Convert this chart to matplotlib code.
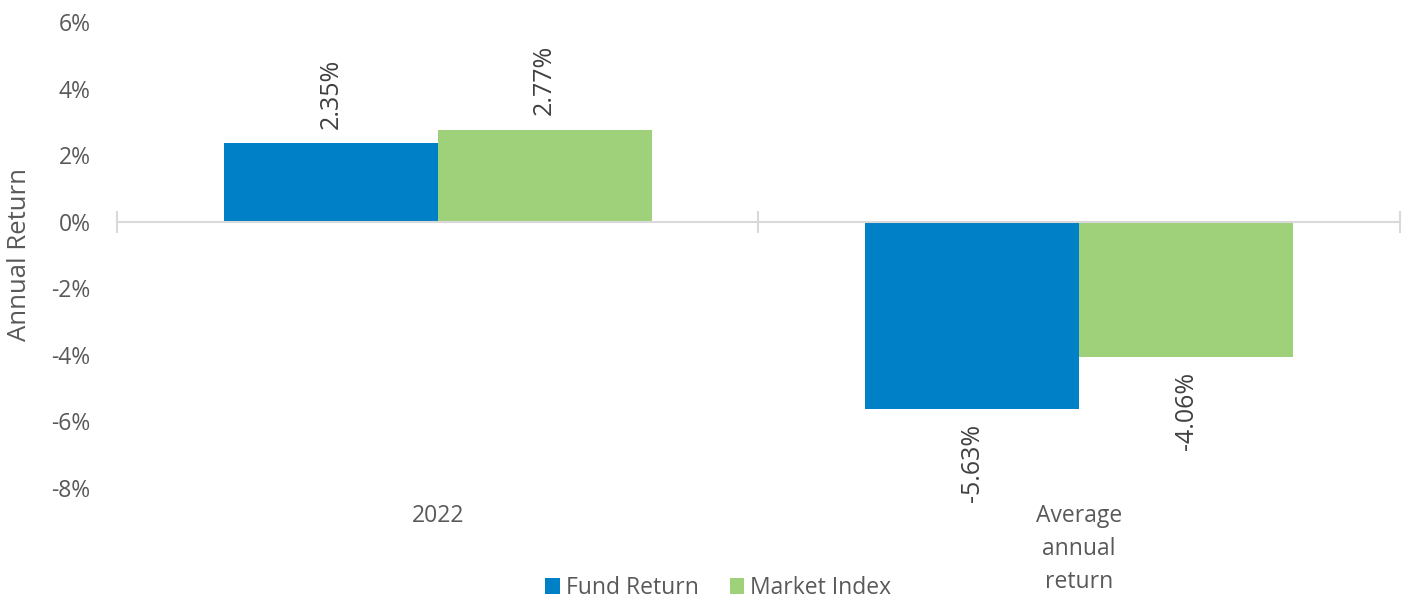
import matplotlib.pyplot as plt
import numpy as np

# --- Data ---
categories = ["2022", "Average\nannual\nreturn"]
series_names = ["Fund Return", "Market Index"]
fund_return = [2.35, -5.63]
market_index = [2.77, -4.06]
y_ticks = [-8, -6, -4, -2, 0, 2, 4, 6]

colors = ["#0080C6", "#9FD07A"]
text_color = "#595959"

plt.rcParams["font.family"] = ["Open Sans", "DejaVu Sans"]
fs = 16.5

fig = plt.figure(figsize=(14.11, 5.99), dpi=100)
ax = fig.add_axes([0.0829, 0.1853, 0.9093, 0.7780])

x = np.arange(len(categories))
w = 1 / 3
for i, (vals, name) in enumerate(zip([fund_return, market_index], series_names)):
    pos = x + (i - 0.5) * w
    bars = ax.bar(pos, vals, width=w, color=colors[i], label=name, zorder=2)
    for b, v in zip(bars, vals):
        off = 0.45 if v >= 0 else -0.45
        ax.text(b.get_x() + b.get_width() / 2, v + off, f"{v:.2f}%",
                rotation=90, ha="center", va="bottom" if v >= 0 else "top",
                fontsize=18, color="#404040")

ax.set_xlim(-0.5, len(categories) - 0.5)
ax.set_ylim(-8, 6)
ax.set_yticks(y_ticks)
ax.set_yticklabels([f"{t}%" for t in y_ticks])
ax.tick_params(axis="y", length=0, labelsize=fs, labelcolor=text_color, pad=19)

# zero line with category separator ticks
for s in ["top", "right", "left"]:
    ax.spines[s].set_visible(False)
ax.spines["bottom"].set_position(("data", 0))
ax.spines["bottom"].set_color("#D9D9D9")
ax.spines["bottom"].set_linewidth(1.5)
ax.set_xticks([])
ax.set_xticks(np.arange(-0.5, len(categories)), minor=True)
ax.tick_params(axis="x", which="minor", direction="inout", length=16,
               width=1.5, color="#D9D9D9", labelbottom=False)

# category labels below the plot
for xi, c in zip(x, categories):
    ax.text(xi, -0.035, c, transform=ax.get_xaxis_transform(), ha="center",
            va="top", fontsize=fs, color=text_color, linespacing=1.5)

ax.set_ylabel("Annual Return", fontsize=18.5, color=text_color)
ax.yaxis.set_label_coords(-0.066, 0.5)

leg = fig.legend(loc="lower center", bbox_to_anchor=(0.509, -0.036), ncol=2,
                 frameon=False, fontsize=fs, handlelength=0.65, handleheight=0.65,
                 handletextpad=0.25, columnspacing=1.35)
for t in leg.get_texts():
    t.set_color(text_color)

fig.savefig("out.png", dpi=100)
